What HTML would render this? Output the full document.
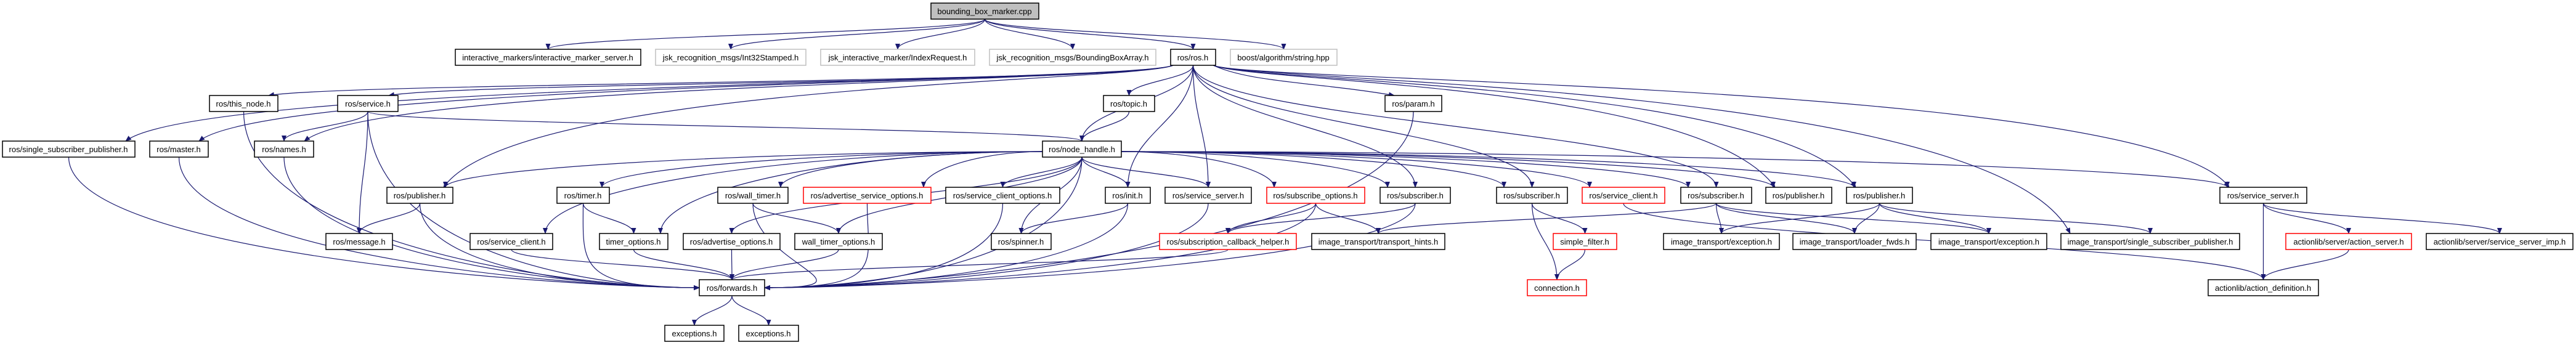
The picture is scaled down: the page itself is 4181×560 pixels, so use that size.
<!DOCTYPE html>
<html><head><meta charset="utf-8"><style>
html,body{margin:0;padding:0;background:#fff;width:4181px;height:560px;overflow:hidden}
svg{display:block}
text{font-family:"Liberation Sans",sans-serif;font-size:13px;text-anchor:middle;fill:#000}
</style></head><body>
<svg id="s" width="4181" height="560" xmlns="http://www.w3.org/2000/svg">
<defs><marker id="a" markerWidth="10" markerHeight="8" refX="9" refY="4" orient="auto" markerUnits="userSpaceOnUse"><path d="M0,0 L10,4 L0,8 z" fill="#191970"/></marker></defs>
<g id="e" fill="none" stroke="#191970" stroke-width="1.2"></g>
</svg>
<script>
var R=[0,5,80,155,229,304,379,454,528];
var N={
cpp:[1511,1686,1],ims:[739,1040,2],int32:[1064,1308,2],idx:[1332,1582,2],bba:[1606,1876,2],ros:[1900,1973,2],boost:[1997,2170,2],
thisnode:[340,451,3],service:[548,646,3],topic:[1791,1874,3],param:[2248,2340,3],
ssp:[4,219,4],master:[243,338,4],names:[413,509,4],nh:[1692,1820,4],
pub1:[628,735,5],timer:[904,989,5],wt:[1165,1279,5],aso:[1304,1511,5],sco:[1535,1720,5],init:[1794,1867,5],ss1:[1891,2031,5],subopt:[2056,2215,5],sub1:[2240,2354,5],sub2:[2429,2544,5],sc2:[2568,2702,5],sub3:[2728,2843,5],pub2:[2866,2973,5],pub3:[2997,3104,5],ss2:[3603,3744,5],
msg:[529,637,6],sc1:[763,897,6],topt:[973,1084,6],aopt:[1109,1266,6],wtopt:[1290,1432,6],spin:[1609,1706,6],sch:[1882,2104,6],th:[2129,2345,6],sf:[2521,2624,6],ex1:[2700,2888,6],lf:[2910,3110,6],ex2:[3134,3322,6],itssp:[3345,3635,6],as:[3710,3914,6],ssi:[3938,4176,6],
fw:[1135,1241,7],conn:[2479,2575,7],ad:[3584,3763,7],
exc1:[1079,1175,8],exc2:[1199,1296,8]};
var E="cpp ims,cpp int32,cpp idx,cpp bba,cpp ros,cpp boost,ros ssp,ros master,ros thisnode,ros service,ros names,ros topic,ros nh,ros init,ros ss1,ros param,ros sub1,ros sub2,ros sub3,ros pub2,ros pub3,ros itssp,ros ss2,ros pub1,service names,service msg,service fw,service nh,thisnode fw,master fw,ssp fw,names fw,topic nh,param fw,nh pub1,nh timer,nh wt,nh aso,nh sco,nh init,nh ss1,nh subopt,nh sub1,nh sub2,nh sc2,nh sub3,nh pub2,nh pub3,nh ss2,nh fw,nh sc1,nh topt,nh aopt,nh wtopt,nh spin,pub1 msg,pub1 fw,timer topt,timer fw,wt wtopt,wt fw,aso fw,sco fw,sc1 fw,topt fw,aopt fw,wtopt fw,init spin,init fw,ss1 fw,subopt sch,subopt th,subopt fw,sub1 sch,sub1 fw,sch fw,sub2 sf,sub2 conn,sf conn,sc2 ad,sub3 th,sub3 ex1,sub3 lf,sub3 ex2,pub3 ex1,pub3 lf,pub3 ex2,pub3 itssp,ss2 as,ss2 ad,ss2 ssi,as ad,fw exc1,fw exc2".split(',');
var eg=document.getElementById('e'),ns='http://www.w3.org/2000/svg';
E.forEach(function(p){var q=p.split(' '),s=N[q[0]],t=N[q[1]];
var sx=(s[0]+s[1])/2,tx=(t[0]+t[1])/2,sy=R[s[2]]+26,ty=R[t[2]],d;
var dy=ty-sy;
var far=Math.abs(tx-sx)>4*dy+100;
if(t[2]>s[2]){
 if(q[1]=='fw'&&t[2]-s[2]>1){var side=sx<tx?t[0]:t[1];ty=R[7]+13;d='M'+sx+','+sy+' C'+sx+','+(sy+dy*0.8)+' '+(side+(sx<tx?-200:200))+','+ty+' '+side+','+ty;}
 else if(far&&q[0]=='nh'){
  var right=tx>sx;var x0=right?s[1]:s[0];var y0=R[s[2]]+17;
  var x1=right?t[0]+12:t[1]-12;
  d='M'+x0+','+y0+' C'+(x0+(x1-x0)*0.5)+','+y0+' '+x1+','+(ty-dy*0.6)+' '+x1+','+ty;}
 else if(far&&q[0]=='ros'){
  var right=tx>sx;var x0=right?s[1]-4:s[0]+4;var y0=sy;
  var x1=right?t[0]+15:t[1]-15;
  d='M'+x0+','+y0+' C'+(x0+(right?60:-60))+','+(y0+28)+' '+(x1+(right?-120:120))+','+(y0+28)+' '+x1+','+ty;}
 else d='M'+sx+','+sy+' C'+sx+','+(sy+dy*0.45)+' '+tx+','+(ty-dy*0.45)+' '+tx+','+ty;}
else{var side=sx<tx?t[0]:t[1];var y=ty+13;d='M'+sx+','+sy+' C'+sx+','+(sy+40)+' '+side+','+y+' '+side+','+y;}
var pa=document.createElementNS(ns,'path');pa.setAttribute('d',d);pa.setAttribute('marker-end','url(#a)');eg.appendChild(pa);});
</script>
<svg style="position:absolute;left:0;top:0" width="4181" height="560" xmlns="http://www.w3.org/2000/svg">
<g stroke-width="1.5">
<rect x="1511" y="5" width="175" height="26" fill="#bfbfbf" stroke="#000"/><text x="1598" y="23">bounding_box_marker.cpp</text>
<rect x="739" y="80" width="301" height="26" fill="#fff" stroke="#000"/><text x="889" y="98">interactive_markers/interactive_marker_server.h</text>
<rect x="1064" y="80" width="244" height="26" fill="#fff" stroke="#bfbfbf"/><text x="1186" y="98">jsk_recognition_msgs/Int32Stamped.h</text>
<rect x="1332" y="80" width="250" height="26" fill="#fff" stroke="#bfbfbf"/><text x="1457" y="98">jsk_interactive_marker/IndexRequest.h</text>
<rect x="1606" y="80" width="270" height="26" fill="#fff" stroke="#bfbfbf"/><text x="1741" y="98">jsk_recognition_msgs/BoundingBoxArray.h</text>
<rect x="1900" y="80" width="73" height="26" fill="#fff" stroke="#000"/><text x="1936" y="98">ros/ros.h</text>
<rect x="1997" y="80" width="173" height="26" fill="#fff" stroke="#bfbfbf"/><text x="2083" y="98">boost/algorithm/string.hpp</text>
<rect x="340" y="155" width="111" height="26" fill="#fff" stroke="#000"/><text x="395" y="173">ros/this_node.h</text>
<rect x="548" y="155" width="98" height="26" fill="#fff" stroke="#000"/><text x="597" y="173">ros/service.h</text>
<rect x="1791" y="155" width="83" height="26" fill="#fff" stroke="#000"/><text x="1832" y="173">ros/topic.h</text>
<rect x="2248" y="155" width="92" height="26" fill="#fff" stroke="#000"/><text x="2294" y="173">ros/param.h</text>
<rect x="4" y="229" width="215" height="26" fill="#fff" stroke="#000"/><text x="111" y="247">ros/single_subscriber_publisher.h</text>
<rect x="243" y="229" width="95" height="26" fill="#fff" stroke="#000"/><text x="290" y="247">ros/master.h</text>
<rect x="413" y="229" width="96" height="26" fill="#fff" stroke="#000"/><text x="461" y="247">ros/names.h</text>
<rect x="1692" y="229" width="128" height="26" fill="#fff" stroke="#000"/><text x="1756" y="247">ros/node_handle.h</text>
<rect x="628" y="304" width="107" height="26" fill="#fff" stroke="#000"/><text x="681" y="322">ros/publisher.h</text>
<rect x="904" y="304" width="85" height="26" fill="#fff" stroke="#000"/><text x="946" y="322">ros/timer.h</text>
<rect x="1165" y="304" width="114" height="26" fill="#fff" stroke="#000"/><text x="1222" y="322">ros/wall_timer.h</text>
<rect x="1304" y="304" width="207" height="26" fill="#fff" stroke="#f00"/><text x="1407" y="322">ros/advertise_service_options.h</text>
<rect x="1535" y="304" width="185" height="26" fill="#fff" stroke="#000"/><text x="1627" y="322">ros/service_client_options.h</text>
<rect x="1794" y="304" width="73" height="26" fill="#fff" stroke="#000"/><text x="1830" y="322">ros/init.h</text>
<rect x="1891" y="304" width="140" height="26" fill="#fff" stroke="#000"/><text x="1961" y="322">ros/service_server.h</text>
<rect x="2056" y="304" width="159" height="26" fill="#fff" stroke="#f00"/><text x="2135" y="322">ros/subscribe_options.h</text>
<rect x="2240" y="304" width="114" height="26" fill="#fff" stroke="#000"/><text x="2297" y="322">ros/subscriber.h</text>
<rect x="2429" y="304" width="115" height="26" fill="#fff" stroke="#000"/><text x="2486" y="322">ros/subscriber.h</text>
<rect x="2568" y="304" width="134" height="26" fill="#fff" stroke="#f00"/><text x="2635" y="322">ros/service_client.h</text>
<rect x="2728" y="304" width="115" height="26" fill="#fff" stroke="#000"/><text x="2785" y="322">ros/subscriber.h</text>
<rect x="2866" y="304" width="107" height="26" fill="#fff" stroke="#000"/><text x="2919" y="322">ros/publisher.h</text>
<rect x="2997" y="304" width="107" height="26" fill="#fff" stroke="#000"/><text x="3050" y="322">ros/publisher.h</text>
<rect x="3603" y="304" width="141" height="26" fill="#fff" stroke="#000"/><text x="3673" y="322">ros/service_server.h</text>
<rect x="529" y="379" width="108" height="26" fill="#fff" stroke="#000"/><text x="583" y="397">ros/message.h</text>
<rect x="763" y="379" width="134" height="26" fill="#fff" stroke="#000"/><text x="830" y="397">ros/service_client.h</text>
<rect x="973" y="379" width="111" height="26" fill="#fff" stroke="#000"/><text x="1028" y="397">timer_options.h</text>
<rect x="1109" y="379" width="157" height="26" fill="#fff" stroke="#000"/><text x="1187" y="397">ros/advertise_options.h</text>
<rect x="1290" y="379" width="142" height="26" fill="#fff" stroke="#000"/><text x="1361" y="397">wall_timer_options.h</text>
<rect x="1609" y="379" width="97" height="26" fill="#fff" stroke="#000"/><text x="1657" y="397">ros/spinner.h</text>
<rect x="1882" y="379" width="222" height="26" fill="#fff" stroke="#f00"/><text x="1993" y="397">ros/subscription_callback_helper.h</text>
<rect x="2129" y="379" width="216" height="26" fill="#fff" stroke="#000"/><text x="2237" y="397">image_transport/transport_hints.h</text>
<rect x="2521" y="379" width="103" height="26" fill="#fff" stroke="#f00"/><text x="2572" y="397">simple_filter.h</text>
<rect x="2700" y="379" width="188" height="26" fill="#fff" stroke="#000"/><text x="2794" y="397">image_transport/exception.h</text>
<rect x="2910" y="379" width="200" height="26" fill="#fff" stroke="#000"/><text x="3010" y="397">image_transport/loader_fwds.h</text>
<rect x="3134" y="379" width="188" height="26" fill="#fff" stroke="#000"/><text x="3228" y="397">image_transport/exception.h</text>
<rect x="3345" y="379" width="290" height="26" fill="#fff" stroke="#000"/><text x="3490" y="397">image_transport/single_subscriber_publisher.h</text>
<rect x="3710" y="379" width="204" height="26" fill="#fff" stroke="#f00"/><text x="3812" y="397">actionlib/server/action_server.h</text>
<rect x="3938" y="379" width="238" height="26" fill="#fff" stroke="#000"/><text x="4057" y="397">actionlib/server/service_server_imp.h</text>
<rect x="1135" y="454" width="106" height="26" fill="#fff" stroke="#000"/><text x="1188" y="472">ros/forwards.h</text>
<rect x="2479" y="454" width="96" height="26" fill="#fff" stroke="#f00"/><text x="2527" y="472">connection.h</text>
<rect x="3584" y="454" width="179" height="26" fill="#fff" stroke="#000"/><text x="3673" y="472">actionlib/action_definition.h</text>
<rect x="1079" y="528" width="96" height="26" fill="#fff" stroke="#000"/><text x="1127" y="546">exceptions.h</text>
<rect x="1199" y="528" width="97" height="26" fill="#fff" stroke="#000"/><text x="1247" y="546">exceptions.h</text>
</g></svg>
</body></html>
